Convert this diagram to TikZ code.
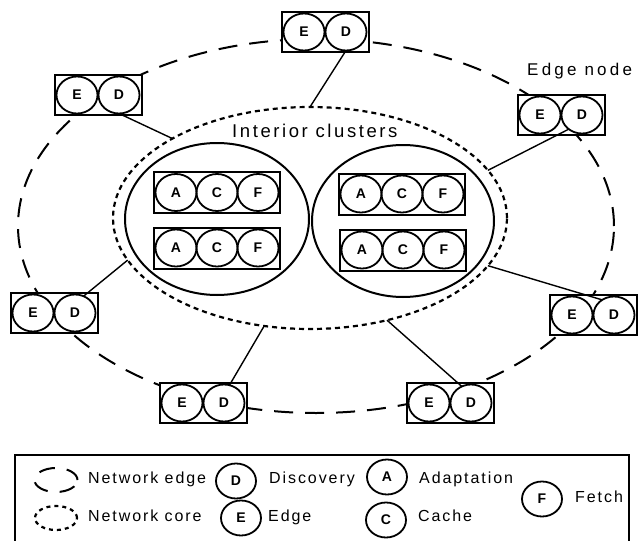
\documentclass[tikz,border=0pt]{standalone}
\usepackage{fontspec}
\usetikzlibrary{shapes.geometric,calc}
\newfontfamily\lblfont[LetterSpace=12]{Liberation Sans}
\newfontfamily\letterfont{Liberation Sans}

\tikzset{
  ring/.style={ellipse, draw, line width=1.8pt, minimum width=41pt, minimum height=37pt,
    inner sep=0pt, outer sep=0pt, font=\letterfont\bfseries\fontsize{14}{14}\selectfont},
  keyring/.style={ring, minimum width=40pt, minimum height=35pt},
  edgebox/.style={rectangle, draw, fill=white, line width=2pt, minimum width=87pt,
    minimum height=40pt, inner sep=0pt},
  clbox/.style={rectangle, draw, fill=white, line width=2pt, minimum width=126pt,
    minimum height=41pt, inner sep=0pt},
  netedge/.style={ellipse, draw, line width=2pt, dash pattern=on 19pt off 12pt,
    inner sep=0pt, outer sep=0pt},
  netcore/.style={ellipse, draw, line width=2.2pt, dash pattern=on 5pt off 4pt,
    inner sep=0pt, outer sep=0pt},
  cluster/.style={ellipse, draw, line width=2pt, inner sep=0pt, outer sep=0pt},
  link/.style={line width=1.4pt},
  lbl/.style={inner sep=0pt, anchor=base west, font=\lblfont\fontsize{16}{16}\selectfont},
}

% an edge node: a box holding the Edge and Discovery services
\newcommand\edgeunit[3]{%
  \node[edgebox] (b#1) at (#2,#3) {};
  \node[ring] (e#1) at ($(b#1.center)+(-21,0)$) {E};
  \node[ring] (d#1) at ($(b#1.center)+(21,0)$) {D};
}
% an interior node: Adaptation, Cache and Fetch services
\newcommand\clusterrow[3]{%
  \node[clbox] (r#1) at (#2,#3) {};
  \node[ring] (a#1) at ($(r#1.center)+(-41,0)$) {A};
  \node[ring] (c#1) at (r#1.center) {C};
  \node[ring] (f#1) at ($(r#1.center)+(41,0)$) {F};
}

\begin{document}
\begin{tikzpicture}[x=1pt, y=-1pt]
\useasboundingbox (0,0) rectangle (641,541);

% network edge and network core
\node[netedge, minimum width=596pt, minimum height=374pt] (edge) at (316,226) {};
\node[netcore, minimum width=394pt, minimum height=222pt] (core) at (310,218) {};

% interior clusters
\node[cluster, minimum width=184pt, minimum height=152pt] (cl) at (217,219) {};
\node[cluster, minimum width=182pt, minimum height=152pt] (cr) at (403,221) {};

\clusterrow{1}{217}{192.5}
\clusterrow{2}{217}{248}
\clusterrow{3}{402}{194}
\clusterrow{4}{403}{250}

% edge nodes around the core
\edgeunit{1}{325}{32}
\edgeunit{2}{98}{95}
\edgeunit{3}{561}{115}
\edgeunit{4}{54}{313}
\edgeunit{5}{203}{403}
\edgeunit{6}{593}{315}
\edgeunit{7}{450}{403}

% links from the core to each edge node
\draw[link] (core.90)  -- (d1.south);
\draw[link] (core.150) -- (d2.south);
\draw[link] (core.15)  -- (d3.227);
\draw[link] (core.193) -- (d4.63);
\draw[link] (core.247) -- (d5.73);
\draw[link] (core.345) -- (d6.128);
\draw[link] (core.307) -- (d7.119);

% labels
\node[lbl, font=\lblfont\addfontfeature{LetterSpace=14}\fontsize{18.5}{18.5}\selectfont] (tint) at (232,137) {Interior clusters};
\node[lbl, font=\lblfont\addfontfeature{LetterSpace=19}\fontsize{17}{17}\selectfont] (tedge) at (527,75) {Edge node};

% legend (its lower edge lies just below the page)
\node[rectangle, draw, line width=2pt, minimum width=614pt, minimum height=90pt, inner sep=0pt]
  (legend) at (322,500) {};
\node[netedge, minimum width=43pt, minimum height=24pt, dash pattern=on 16pt off 12pt] (kedge) at (56,480) {};
\node[netcore, minimum width=42pt, minimum height=24pt, dash pattern=on 4pt off 4pt] (kcore) at (56,518) {};
\node[lbl] (tkedge) at (88,483) {Network edge};
\node[lbl] (tkcore) at (88,521) {Network core};
\node[keyring] (kd) at (236,481) {D};
\node[keyring] (ke) at (241,518) {E};
\node[lbl] (tkd) at (269,483) {Discovery};
\node[lbl] (tke) at (268,521) {Edge};
\node[keyring] (ka) at (387,477) {A};
\node[keyring] (kc) at (386,520) {C};
\node[lbl] (tka) at (419,483) {Adaptation};
\node[lbl] (tkc) at (418,521) {Cache};
\node[keyring] (kf) at (542,499) {F};
\node[lbl] (tkf) at (575,502) {Fetch};
\end{tikzpicture}
\end{document}
